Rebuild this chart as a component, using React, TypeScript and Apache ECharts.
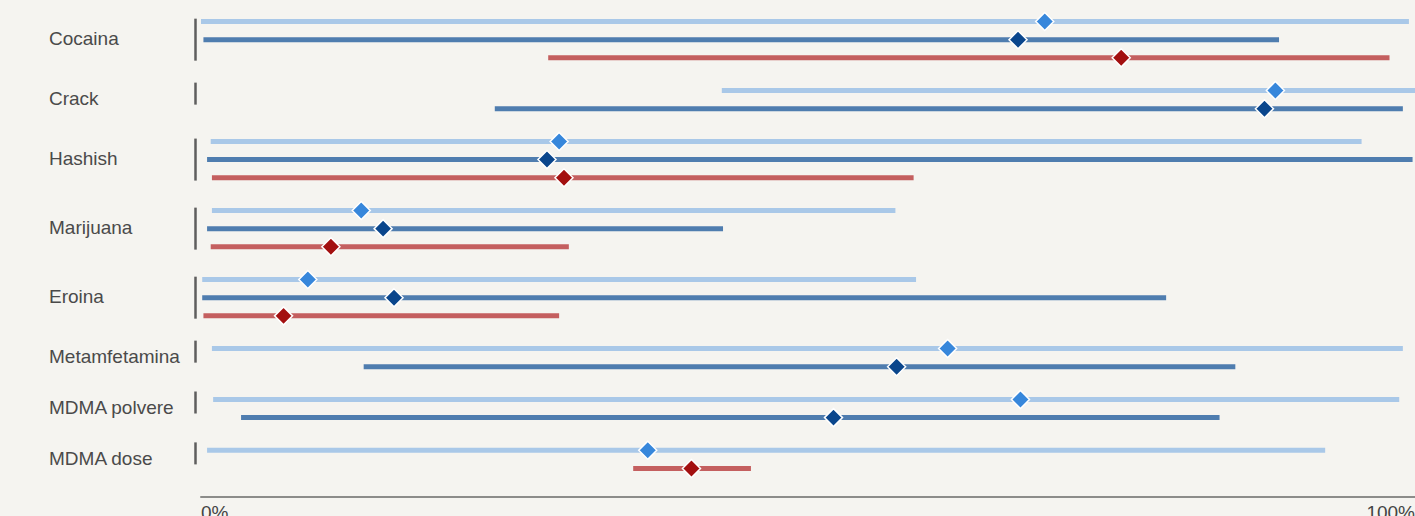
import React, { useEffect, useRef } from "react";
import * as echarts from "echarts";

const categories = ["Cocaina", "Crack", "Hashish", "Marijuana", "Eroina", "Metamfetamina", "MDMA polvere", "MDMA dose"];

const lightLow = [0.0, 42.9, 0.8, 0.9, 0.1, 0.9, 1.0, 0.5];
const lightHigh = [99.5, 100, 95.6, 57.2, 58.9, 99.0, 98.7, 92.6];
const lightMid = [69.5, 88.5, 29.5, 13.2, 8.8, 61.5, 67.5, 36.8];

const darkLow = [0.2, 24.2, 0.5, 0.5, 0.1, 13.4, 3.3, null];
const darkHigh = [88.8, 99.0, 99.8, 43.0, 79.5, 85.2, 83.9, null];
const darkMid = [67.3, 87.6, 28.5, 15.0, 15.9, 57.3, 52.1, null];

const redLow = [28.6, null, 0.9, 0.8, 0.2, null, null, 35.6];
const redHigh = [97.9, null, 58.7, 30.3, 29.5, null, null, 45.3];
const redMid = [75.8, null, 29.9, 10.7, 6.8, null, null, 40.4];

const xTicks = [0, 100];

const seriesDefs = [
  { name: "Serie 1", low: lightLow, high: lightHigh, mid: lightMid, line: "#a9c8e8", diamond: "#3787db" },
  { name: "Serie 2", low: darkLow, high: darkHigh, mid: darkMid, line: "#4f7daf", diamond: "#0a468c" },
  { name: "Serie 3", low: redLow, high: redHigh, mid: redMid, line: "#c45f5f", diamond: "#a31010" },
];

const GROUP_GAP = 1.8;

function buildLayout() {
  const rowPos: (number | null)[][] = seriesDefs.map(() => categories.map(() => null));
  const groups: number[][] = [];
  let pos = 0;
  categories.forEach((_, i) => {
    let first = -1;
    let last = -1;
    let n = 0;
    seriesDefs.forEach((s, si) => {
      if (s.low[i] != null) {
        rowPos[si][i] = pos;
        if (first < 0) first = pos;
        last = pos;
        n++;
        pos += 1;
      }
    });
    groups.push([first, last, n, i]);
    pos = last + GROUP_GAP;
  });
  return { rowPos, groups };
}

export default function App() {
  const ref = useRef<HTMLDivElement>(null);
  useEffect(() => {
    document.body.style.margin = "0";
    document.body.style.background = "#f5f4f0";
    const chart = echarts.init(ref.current!, null, { renderer: "svg" });
    const { rowPos, groups } = buildLayout();

    const rangeSeries = seriesDefs.map((s, si) => ({
      type: "custom",
      name: s.name,
      clip: false,
      encode: { x: [0, 1, 2], y: 3 },
      data: categories
        .map((_, i) => (s.low[i] == null ? null : [s.low[i], s.high[i], s.mid[i], rowPos[si][i]]))
        .filter((d) => d != null),
      renderItem: (params: any, api: any) => {
        const y = api.value(3);
        const p1 = api.coord([api.value(0), y]);
        const p2 = api.coord([api.value(1), y]);
        const pm = api.coord([api.value(2), y]);
        const r = 9;
        return {
          type: "group",
          children: [
            {
              type: "line",
              shape: { x1: p1[0], y1: p1[1], x2: p2[0], y2: p2[1] },
              style: { stroke: s.line, lineWidth: 5 },
            },
            {
              type: "polygon",
              shape: {
                points: [
                  [pm[0], pm[1] - r],
                  [pm[0] + r, pm[1]],
                  [pm[0], pm[1] + r],
                  [pm[0] - r, pm[1]],
                ],
              },
              style: { fill: s.diamond, stroke: "#ffffff", lineWidth: 1.5 },
            },
          ],
        };
      },
    }));

    const groupSeries = {
      type: "custom",
      name: "groups",
      clip: false,
      encode: { y: [0, 1] },
      data: groups,
      renderItem: (params: any, api: any) => {
        const top = api.coord([0, api.value(0)])[1];
        const bottom = api.coord([0, api.value(1)])[1];
        const n = api.value(2);
        const idx = api.value(3);
        const center = (top + bottom) / 2;
        const h = n >= 3 ? 42 : 22;
        const off = n >= 3 ? 0 : -6;
        return {
          type: "group",
          children: [
            {
              type: "line",
              shape: { x1: 195.5, y1: center + off - h / 2, x2: 195.5, y2: center + off + h / 2 },
              style: { stroke: "#5e5e5e", lineWidth: 2.5 },
            },
            {
              type: "text",
              style: {
                text: categories[idx],
                x: 49,
                y: center - 1,
                fill: "#4a4a4a",
                fontSize: 19,
                fontFamily: "Liberation Sans, Arial, sans-serif",
                align: "left",
                verticalAlign: "middle",
              },
            },
          ],
        };
      },
    };

    chart.setOption({
      animation: false,
      backgroundColor: "#f5f4f0",
      grid: { left: 201, right: 0, top: 0, height: 497, outerBoundsMode: "none", containLabel: false },
      xAxis: {
        type: "value",
        min: xTicks[0],
        max: xTicks[1],
        interval: xTicks[1] - xTicks[0],
        splitLine: { show: false },
        axisTick: { show: false },
        axisLine: { show: true, onZero: false, lineStyle: { color: "#8c8c8a", width: 2 } },
        axisLabel: {
          formatter: (v: number) => v + "%",
          color: "#444444",
          fontSize: 19,
          fontFamily: "Liberation Sans, Arial, sans-serif",
          margin: 6,
          alignMinLabel: "left",
          alignMaxLabel: "right",
        },
      },
      yAxis: {
        type: "value",
        inverse: true,
        min: -1.183,
        max: 26.17,
        show: false,
      },
      series: [groupSeries, ...rangeSeries],
    });
    return () => chart.dispose();
  }, []);
  return <div ref={ref} style={{ position: "absolute", left: 0, top: 0, width: 1415, height: 516 }} />;
}
